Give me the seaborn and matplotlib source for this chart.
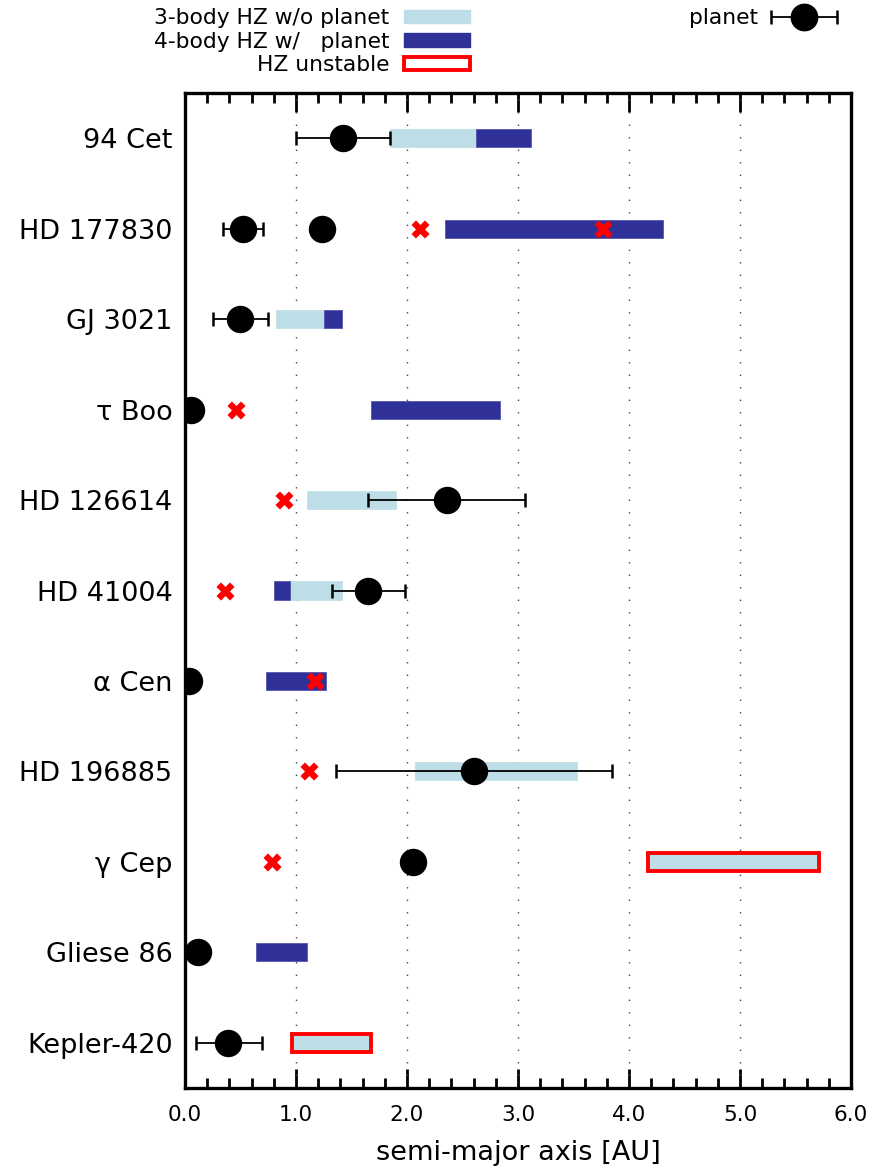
import numpy as np
import matplotlib
matplotlib.use("Agg")
import matplotlib.pyplot as plt
from matplotlib.patches import Patch
from matplotlib.lines import Line2D
from matplotlib.container import ErrorbarContainer
from matplotlib.legend_handler import HandlerErrorbar, HandlerTuple
from matplotlib.ticker import MultipleLocator
import seaborn as sns
import pandas as pd

# Systems, top to bottom
stars = ["94 Cet", "HD 177830", "GJ 3021", "τ Boo", "HD 126614", "HD 41004",
         "α Cen", "HD 196885", "γ Cep", "Gliese 86", "Kepler-420"]

# Habitable zone of the stellar system alone (3-body), AU
hz3_start = [1.85, np.nan, 0.82, np.nan, 1.10, 0.95, np.nan, 2.07, 4.17, np.nan, 0.96]
hz3_end   = [2.62, np.nan, 1.25, np.nan, 1.90, 1.41, np.nan, 3.53, 5.71, np.nan, 1.68]
# Habitable zone including the planet (4-body), AU
hz4_start = [2.62, 2.34, 1.25, 1.68, np.nan, 0.80, 0.73, np.nan, np.nan, 0.64, np.nan]
hz4_end   = [3.12, 4.31, 1.41, 2.84, np.nan, 0.95, 1.27, np.nan, np.nan, 1.10, np.nan]
# Systems whose habitable zone is dynamically unstable
hz_unstable = [False, False, False, False, False, False, False, False, True, False, True]

# Known planets: host row, semi-major axis and its range
planet_star = [0, 1, 1, 2, 3, 4, 5, 6, 7, 8, 9, 10]
planet_a    = [1.42, 0.52, 1.23, 0.50, 0.05, 2.36, 1.65, 0.04, 2.60, 2.05, 0.12, 0.39]
planet_lo   = [1.00, 0.34, np.nan, 0.25, np.nan, 1.65, 1.32, np.nan, 1.36, np.nan, np.nan, 0.10]
planet_hi   = [1.85, 0.70, np.nan, 0.75, np.nan, 3.06, 1.98, np.nan, 3.85, np.nan, np.nan, 0.69]

# Instability markers (red crosses)
cross_star = [1, 1, 3, 4, 5, 6, 7, 8]
cross_a    = [2.12, 3.77, 0.46, 0.89, 0.36, 1.17, 1.12, 0.78]

LIGHT = "#bddee6"
DARK = "#303099"
RED = "#ff0000"

sns.set_style("ticks")
plt.rcParams["font.family"] = ["DejaVu Sans"]
for key in ("text.color", "axes.labelcolor", "xtick.color", "ytick.color",
            "axes.edgecolor"):
    plt.rcParams[key] = "black"

fig = plt.figure(figsize=(8.71, 11.66), dpi=100)
ax = fig.add_axes([0.2124, 0.0669, 0.7646, 0.8533])

rows = np.arange(len(stars))
bar_h = 0.2

# 3-body habitable zones
s3 = np.array(hz3_start); e3 = np.array(hz3_end)
unst = np.array(hz_unstable)
ok = ~np.isnan(s3) & ~unst
ax.barh(rows[ok], (e3 - s3)[ok], left=s3[ok], height=bar_h, color=LIGHT,
        edgecolor=LIGHT, linewidth=0.5, zorder=2)
# unstable habitable zones: outlined in red
ax.barh(rows[unst], (e3 - s3)[unst], left=s3[unst], height=bar_h, color=LIGHT,
        edgecolor=RED, linewidth=2.8, zorder=2)

# 4-body habitable zones
s4 = np.array(hz4_start); e4 = np.array(hz4_end)
ok4 = ~np.isnan(s4)
ax.barh(rows[ok4], (e4 - s4)[ok4], left=s4[ok4], height=bar_h, color=DARK,
        edgecolor="#5555b0", linewidth=0.6, zorder=3)

# planet semi-major axis ranges
pa = np.array(planet_a); plo = np.array(planet_lo); phi = np.array(planet_hi)
prow = np.array(planet_star)
has_err = ~np.isnan(plo)
err = ax.errorbar(pa[has_err], prow[has_err],
                  xerr=[pa[has_err] - plo[has_err], phi[has_err] - pa[has_err]],
                  fmt="none", ecolor="black", elinewidth=1.3, capsize=5,
                  capthick=1.8, zorder=4)

planets = pd.DataFrame({"a": pa, "row": prow})
sns.scatterplot(data=planets, x="a", y="row", s=390, color="black",
                linewidth=0, ax=ax, zorder=5, legend=False)

crosses = pd.DataFrame({"a": cross_a, "row": cross_star})
sns.scatterplot(data=crosses, x="a", y="row", marker="X", s=170, color=RED,
                linewidth=0, ax=ax, zorder=6, legend=False)

# axes
ax.set_xlim(0, 6)
ax.set_ylim(len(stars) - 0.5, -0.5)
ax.set_yticks(rows)
ax.set_yticklabels(stars, fontsize=19.5)
ax.tick_params(axis="y", length=0, pad=9)
ax.xaxis.set_minor_locator(MultipleLocator(0.2))
ax.set_xticks(np.arange(0, 6.01, 1.0))
ax.set_xticklabels([f"{v:.1f}" for v in np.arange(0, 6.01, 1.0)], fontsize=15.5)
ax.tick_params(axis="x", which="major", direction="in", length=14, width=2,
               top=True, bottom=True, pad=12)
ax.tick_params(axis="x", which="minor", direction="in", length=7, width=2,
               top=True, bottom=True)
ax.set_xlabel("semi-major axis [AU]", fontsize=19.5, labelpad=11)
ax.set_ylabel("")
for sp in ax.spines.values():
    sp.set_linewidth(2.4)
    sp.set_color("black")
    sp.set_visible(True)

for xv in range(1, 6):
    ax.axvline(xv, color="#444444", linestyle=(0, (1, 8)), linewidth=1.0, zorder=1)

# legends above the axes
handles = [Patch(facecolor=LIGHT, edgecolor=LIGHT),
           Patch(facecolor=DARK, edgecolor=DARK),
           Patch(facecolor="white", edgecolor=RED, linewidth=2.8)]
labels = ["3-body HZ w/o planet", "4-body HZ w/   planet", "HZ unstable"]
fig.legend(handles, labels, loc="upper right",
           bbox_to_anchor=(472 / 871, 1 - 6 / 1166),
           markerfirst=False, frameon=False, fontsize=15.7, handlelength=3.0,
           handleheight=0.55, labelspacing=0.16, handletextpad=0.7,
           borderaxespad=0.0, borderpad=0.1)

planet_dot = Line2D([], [], marker="o", ms=19, color="black", linestyle="none")
fig.legend([(err, planet_dot)], ["planet"], loc="upper right",
           bbox_to_anchor=(839 / 871, 1 - 6 / 1166), frameon=False,
           fontsize=15.7, markerfirst=False, handlelength=3.0,
           handletextpad=0.6, borderaxespad=0.0, borderpad=0.1,
           handler_map={ErrorbarContainer: HandlerErrorbar(xerr_size=1.5),
                        tuple: HandlerTuple(ndivide=1, pad=0)})

fig.savefig("out.png", dpi=100)
